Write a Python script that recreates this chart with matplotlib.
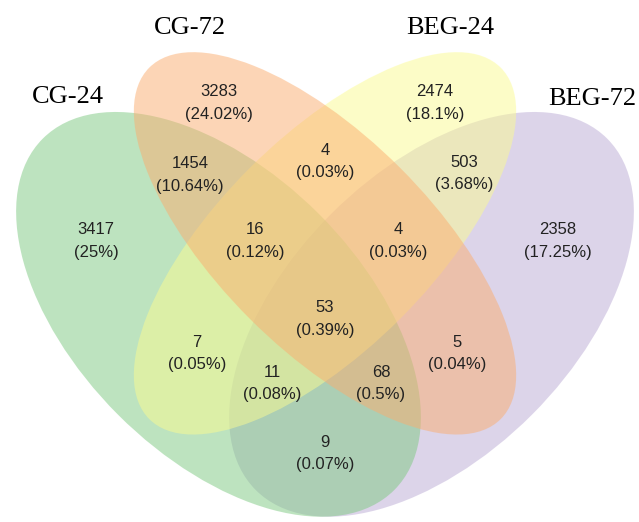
import matplotlib
matplotlib.use("Agg")
import matplotlib.pyplot as plt
from matplotlib.patches import Ellipse

# ---- data ----
set_names = ["CG-24", "CG-72", "BEG-24", "BEG-72"]
counts = [3283, 2474, 1454, 4, 503, 3417, 16, 4, 2358, 53, 7, 5, 11, 68, 9]
percents = ["24.02%", "18.1%", "10.64%", "0.03%", "3.68%", "25%", "0.12%",
            "0.03%", "17.25%", "0.39%", "0.05%", "0.04%", "0.08%", "0.5%", "0.07%"]

# ---- layout (pixel space) ----
W, H = 639, 522
S = 710.0          # pixels per venn unit
CX, CY = 325.0, 112.0  # pixel of venn (0.5, 0.755)

def px(x, y):
    return CX + (x - 0.5) * S, CY + (0.755 - y) * S

# VennDiagram quad ellipses: (x, y, a, b, angle_in_y_up)
ell = {
    "CG-24":  (0.35, 0.47, 0.35, 0.20, 135),
    "CG-72":  (0.50, 0.57, 0.35, 0.15, 135),
    "BEG-24": (0.50, 0.57, 0.35, 0.15, 45),
    "BEG-72": (0.65, 0.47, 0.35, 0.20, 45),
}
colors = {
    "CG-24": (125/255, 201/255, 129/255),
    "CG-72": (251/255, 173/255, 111/255),
    "BEG-24": (251/255, 251/255, 145/255),
    "BEG-72": (187/255, 171/255, 213/255),
}
draw_order = ["BEG-72", "CG-24", "BEG-24", "CG-72"]

label_pos = [(219, 90.5), (435, 90.5), (190, 162), (325, 149), (464, 161),
             (96, 228), (255, 228), (398, 228), (558, 228), (325, 306),
             (197, 341), (457, 341), (272, 371), (381, 371), (325, 441)]
name_pos = {"CG-72": (190, 34), "BEG-24": (450, 34), "CG-24": (68, 103), "BEG-72": (592, 105)}

fig = plt.figure(figsize=(W / 100, H / 100), dpi=100)
ax = fig.add_axes([0, 0, 1, 1])
ax.set_xlim(0, W)
ax.set_ylim(H, 0)
ax.axis("off")

for name in draw_order:
    x, y, a, b, ang = ell[name]
    cx, cy = px(x, y)
    e = Ellipse((cx, cy), 2 * a * S, 2 * b * S, angle=-ang,
                facecolor=colors[name], alpha=0.5, edgecolor="none")
    ax.add_patch(e)

for (x, y), c, p in zip(label_pos, counts, percents):
    ax.text(x, y + 6, str(c), ha="center", va="baseline", fontsize=12,
            family="Liberation Sans", color="#222222")
    ax.text(x, y + 23.5 + 5, f"({p})", ha="center", va="baseline", fontsize=12,
            family="Liberation Sans", color="#222222")

for name in set_names:
    x, y = name_pos[name]
    ax.text(x, y, name, ha="center", va="baseline", fontsize=19,
            family="Liberation Serif", color="black")

fig.savefig("out.png", dpi=100)
